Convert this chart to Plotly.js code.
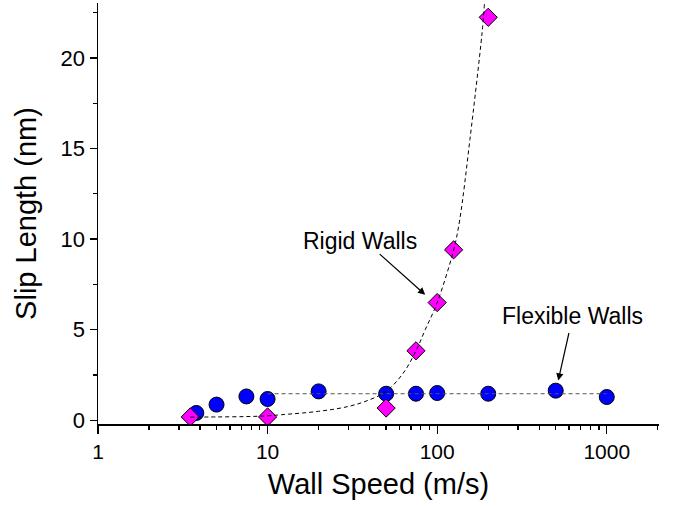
<!DOCTYPE html>
<html>
<head>
<meta charset="utf-8">
<script src="https://cdn.plot.ly/plotly-3.0.1.min.js"></script>
<style>html,body{margin:0;padding:0;background:#fff;}#chart{width:673px;height:508px;}</style>
</head>
<body>
<div id="chart"></div>
<script>
// Flexible walls (blue circles)
var flexX = [3.8, 5, 7.5, 10, 20, 50, 75, 100, 200, 500, 1000];
var flexY = [0.41, 0.87, 1.32, 1.18, 1.60, 1.47, 1.47, 1.51, 1.47, 1.64, 1.29];
// Rigid walls (magenta diamonds)
var rigidX = [3.5, 10, 50, 75, 100, 125, 200];
var rigidY = [0.19, 0.19, 0.68, 3.84, 6.5, 9.41, 22.24];
// Dashed guide lines
var flexLineX = [10, 1000];
var flexLineY = [1.47, 1.47];
var rigidFitX = [3.5, 5, 7.5, 10, 12, 20, 30, 40, 50, 63, 75, 85, 100, 125, 136, 156, 184, 190];
var rigidFitY = [0.18, 0.19, 0.21, 0.25, 0.31, 0.5, 0.77, 1.14, 1.6, 2.6, 3.84, 5.0, 6.5, 9.4, 11.1, 15.5, 21.4, 23.0];
// Axis ticks
var xTickVals = [1, 10, 100, 1000];
var xTickText = ['1', '10', '100', '1000'];
var yTickVals = [0, 5, 10, 15, 20];
var yTickText = ['0', '5', '10', '15', '20'];
// Labels
var labelRigid = 'Rigid Walls';
var labelFlex = 'Flexible Walls';

var FONT = 'Liberation Sans, Arial, sans-serif';

var traces = [
  {x: flexX, y: flexY, mode: 'markers', type: 'scatter',
   marker: {symbol: 'circle', size: 15, color: '#0000ff', line: {color: '#000', width: 1}}},
  {x: rigidX, y: rigidY, mode: 'markers', type: 'scatter',
   marker: {symbol: 'diamond', size: 14, color: '#ff00ff', line: {color: '#000', width: 1}}},
  {x: flexLineX, y: flexLineY, mode: 'lines', type: 'scatter',
   line: {color: '#555', width: 1, dash: '4px,3px'}},
  {x: rigidFitX, y: rigidFitY, mode: 'lines', type: 'scatter',
   line: {color: '#000', width: 1, dash: '4px,3px', shape: 'spline', smoothing: 1}}
];

var layout = {
  width: 673, height: 508,
  margin: {l: 98, r: 14, t: 3, b: 84},
  paper_bgcolor: '#fff', plot_bgcolor: '#fff',
  showlegend: false,
  font: {family: FONT, color: '#000'},
  xaxis: {
    type: 'log', range: [0, 3.308],
    tickvals: xTickVals, ticktext: xTickText,
    ticks: 'outside', ticklen: 8, tickwidth: 1.3, tickcolor: '#000',
    minor: {ticks: 'outside', ticklen: 4, tickwidth: 1.3, tickcolor: '#000', dtick: 'D1'},
    showline: true, linecolor: '#000', linewidth: 1.5,
    showgrid: false, zeroline: false,
    tickfont: {family: FONT, size: 21, color: '#000'},
    title: {text: 'Wall Speed (m/s)', font: {family: FONT, size: 29, color: '#000'}, standoff: 12}
  },
  yaxis: {
    range: [-0.2, 23.03],
    tickvals: yTickVals, ticktext: yTickText,
    ticks: 'outside', ticklen: 7, tickwidth: 1.3, tickcolor: '#000',
    minor: {ticks: 'outside', ticklen: 4, tickwidth: 1.3, tickcolor: '#000', dtick: 2.5},
    showline: true, linecolor: '#000', linewidth: 1.5,
    showgrid: false, zeroline: false,
    tickfont: {family: FONT, size: 22, color: '#000'},
    title: {text: 'Slip Length (nm)', font: {family: FONT, size: 29, color: '#000'}, standoff: 15}
  },
  annotations: [
    {xref: 'x', yref: 'y', x: 1.546, y: 9.9, text: labelRigid, showarrow: false,
     font: {family: FONT, size: 23, color: '#000'}},
    {xref: 'x', yref: 'y', x: Math.log10(85), y: 6.93, text: '', showarrow: true,
     ax: -47, ay: -42, arrowhead: 2, arrowsize: 1.2, arrowwidth: 1.2, arrowcolor: '#000', standoff: 0},
    {xref: 'x', yref: 'y', x: 2.795, y: 5.77, text: labelFlex, showarrow: false,
     font: {family: FONT, size: 23, color: '#000'}},
    {xref: 'x', yref: 'y', x: 2.714, y: 2.2, text: '', showarrow: true,
     ax: 11, ay: -49, arrowhead: 2, arrowsize: 1.2, arrowwidth: 1.2, arrowcolor: '#000', standoff: 0}
  ]
};

Plotly.newPlot('chart', traces, layout, {displayModeBar: false, staticPlot: true});
</script>
</body>
</html>
